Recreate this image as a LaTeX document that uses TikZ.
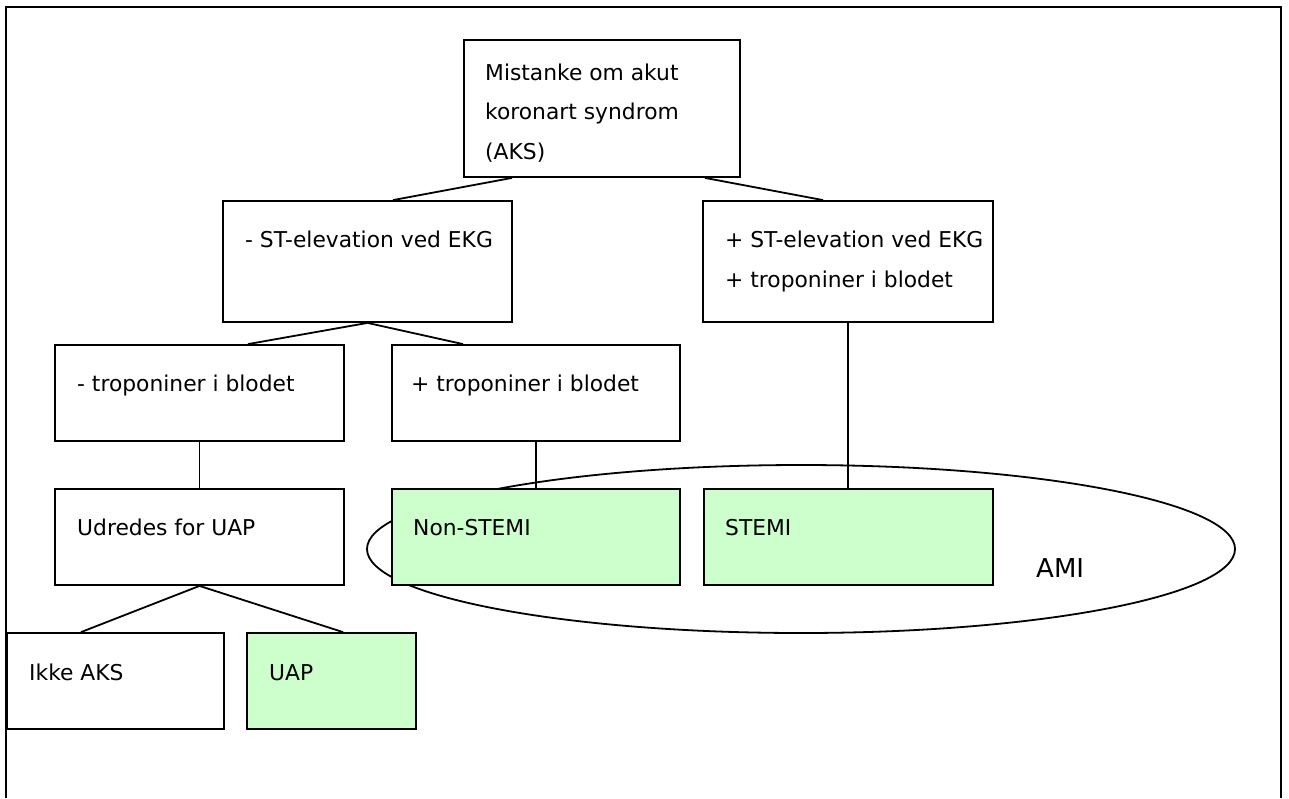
\documentclass[tikz,border=0pt]{standalone}
\usepackage{fontspec}
\setmainfont{DejaVu Sans}
\usetikzlibrary{shapes.geometric}
\definecolor{boxgreen}{HTML}{CCFFCC}
\tikzset{
  box/.style={draw=black, line width=1.8pt, fill=white, rectangle, inner sep=0pt},
  gbox/.style={box, fill=boxgreen},
  txt/.style={anchor=base west, inner sep=0pt, font=\fontsize{21.8}{26}\selectfont, text=black},
  conn/.style={draw=black, line width=1.8pt},
}
\begin{document}
\begin{tikzpicture}[x=1pt,y=-1pt]
\useasboundingbox (0,0) rectangle (1289,798);
% outer frame
\draw[line width=2.5pt] (6,798) -- (6,7) -- (1281,7) -- (1281,798);

% AMI ellipse
\node[draw, line width=1.8pt, ellipse, minimum width=868pt, minimum height=168pt, inner sep=0pt] (ami) at (801,549) {};

% boxes
\node[box, minimum width=276pt, minimum height=137pt] (top) at (602,108.5) {};
\node[box, minimum width=289pt, minimum height=121pt] (stneg) at (367.5,261.5) {};
\node[box, minimum width=290pt, minimum height=121pt] (stpos) at (848,261.5) {};
\node[box, minimum width=289pt, minimum height=96pt] (tropneg) at (199.5,393) {};
\node[box, minimum width=288pt, minimum height=96pt] (troppos) at (536,393) {};
\node[box, minimum width=289pt, minimum height=96pt] (udr) at (199.5,537) {};
\node[gbox, minimum width=288pt, minimum height=96pt] (nstemi) at (536,537) {};
\node[gbox, minimum width=289pt, minimum height=96pt] (stemi) at (848.5,537) {};
\node[box, minimum width=217pt, minimum height=96pt] (ikke) at (115.5,681) {};
\node[gbox, minimum width=169pt, minimum height=96pt] (uap) at (331.5,681) {};

% texts
\node[txt] (t1) at (485,80) {Mistanke om akut};
\node[txt] (t2) at (485,119.5) {koronart syndrom};
\node[txt] (t3) at (485,159) {(AKS)};
\node[txt] (t4) at (245,247) {- ST-elevation ved EKG};
\node[txt] (t5) at (725,247) {+ ST-elevation ved EKG};
\node[txt] (t6) at (725,287) {+ troponiner i blodet};
\node[txt] (t7) at (77,391) {- troponiner i blodet};
\node[txt] (t8) at (411,391) {+ troponiner i blodet};
\node[txt] (t9) at (77,535) {Udredes for UAP};
\node[txt] (t10) at (413,535) {Non-STEMI};
\node[txt] (t11) at (725,535) {STEMI};
\node[txt] (t12) at (29,680) {Ikke AKS};
\node[txt] (t13) at (269,680) {UAP};
\node[txt, font=\fontsize{26}{30}\selectfont] (amit) at (1036,577) {AMI};

% connectors
\draw[conn] ([xshift=-90pt]top.south) -- ([xshift=25.5pt]stneg.north);
\draw[conn] ([xshift=103pt]top.south) -- ([xshift=-25pt]stpos.north);
\draw[conn] (stneg.south) -- ([xshift=48.5pt]tropneg.north);
\draw[conn] (stneg.south) -- ([xshift=-73pt]troppos.north);
\draw[conn] (stpos.south) -- (stpos.south |- stemi.north);
\draw[conn] (tropneg.south) -- (udr.north);
\draw[conn] (troppos.south) -- (nstemi.north);
\draw[conn] (udr.south) -- ([xshift=-34.5pt]ikke.north);
\draw[conn] (udr.south) -- ([xshift=11.5pt]uap.north);
\end{tikzpicture}
\end{document}
